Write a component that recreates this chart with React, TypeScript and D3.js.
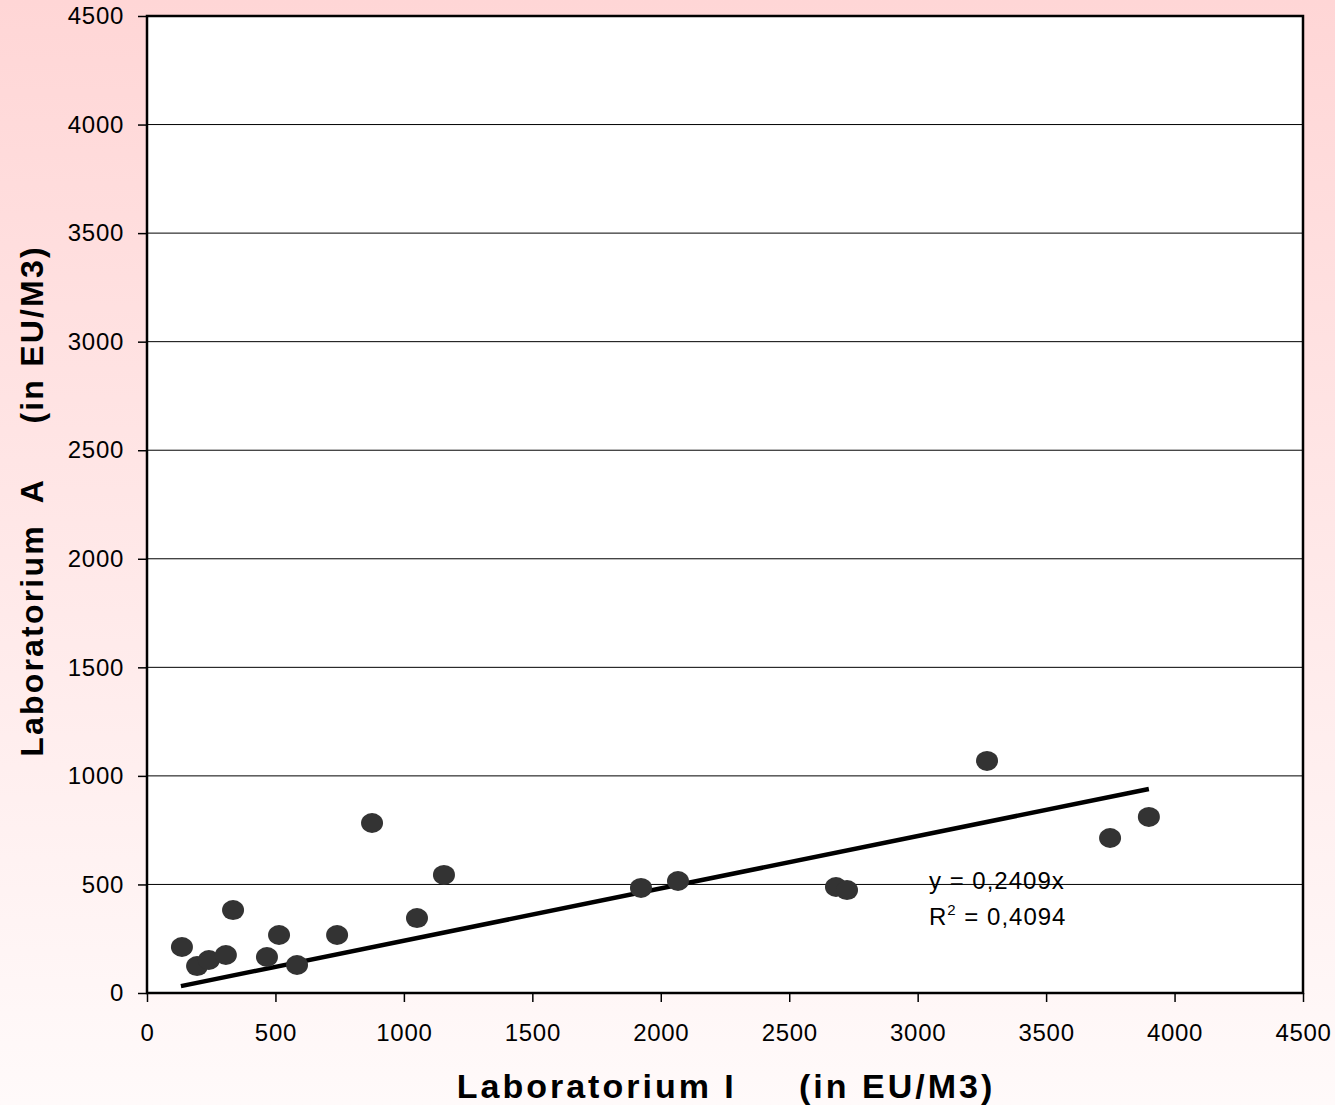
import React, { useEffect, useRef } from 'react';
import * as d3 from 'd3';

// (Laboratorium I vs Laboratorium A, EU/M3)
const labI = [136, 195, 241, 307, 335, 467, 514, 584, 740, 876, 1051, 1156, 1923, 2067, 2682, 2725, 3270, 3749, 3900];
const labA = [212, 124, 152, 175, 382, 166, 267, 129, 267, 783, 345, 544, 484, 516, 488, 474, 1069, 714, 811];
const slope = 0.2409;
const rSquared = '0,4094';
const ticks = [0, 500, 1000, 1500, 2000, 2500, 3000, 3500, 4000, 4500];

const W = 1335;
const H = 1105;
const margin = { top: 16, right: 32, bottom: 112, left: 147 };

export default function App() {
  const svgRef = useRef<SVGSVGElement>(null);

  useEffect(() => {
    document.body.style.margin = '0';
    const svg = d3.select(svgRef.current);
    svg.selectAll('*').remove();

    const x = d3.scaleLinear().domain([0, 4500]).range([margin.left, W - margin.right]);
    const y = d3.scaleLinear().domain([0, 4500]).range([H - margin.bottom, margin.top]);

    // background gradient
    const defs = svg.append('defs');
    const grad = defs.append('linearGradient').attr('id', 'bg').attr('x1', 0).attr('y1', 0).attr('x2', 0).attr('y2', 1);
    grad.append('stop').attr('offset', '0%').attr('stop-color', '#ffd6d6');
    grad.append('stop').attr('offset', '100%').attr('stop-color', '#fffafa');
    svg.append('rect').attr('width', W).attr('height', H).attr('fill', 'url(#bg)');

    // plot area
    svg.append('rect')
      .attr('x', x(0)).attr('y', y(4500))
      .attr('width', x(4500) - x(0)).attr('height', y(0) - y(4500))
      .attr('fill', '#fff');

    // gridlines
    svg.append('g')
      .selectAll('line')
      .data(ticks.slice(1, -1))
      .join('line')
      .attr('x1', x(0)).attr('x2', x(4500))
      .attr('y1', d => y(d)).attr('y2', d => y(d))
      .attr('stroke', '#000').attr('stroke-width', 1);

    const font = '"Liberation Sans", Arial, sans-serif';

    // axes
    const yAxis = svg.append('g')
      .attr('transform', `translate(${x(0)},0)`)
      .call(d3.axisLeft(y).tickValues(ticks).tickSize(9).tickPadding(14).tickFormat(d3.format('d')));
    const xAxis = svg.append('g')
      .attr('transform', `translate(0,${y(0)})`)
      .call(d3.axisBottom(x).tickValues(ticks).tickSize(9).tickPadding(22).tickFormat(d3.format('d')));
    [yAxis, xAxis].forEach(g => {
      g.select('.domain').remove();
      g.selectAll('.tick line').attr('stroke', '#000').attr('stroke-width', 1.5);
      g.selectAll('.tick text').attr('fill', '#000')
        .style('font-family', font).style('font-size', '24px').style('letter-spacing', '0.7px');
    });

    // frame
    svg.append('rect')
      .attr('x', x(0)).attr('y', y(4500))
      .attr('width', x(4500) - x(0)).attr('height', y(0) - y(4500))
      .attr('fill', 'none').attr('stroke', '#000').attr('stroke-width', 2.5);

    // trendline
    const xs = d3.extent(labI) as [number, number];
    svg.append('line')
      .attr('x1', x(xs[0] - 4)).attr('y1', y(slope * (xs[0] - 4)))
      .attr('x2', x(xs[1])).attr('y2', y(slope * xs[1]))
      .attr('stroke', '#000').attr('stroke-width', 4.5);

    // points
    svg.append('g')
      .selectAll('ellipse')
      .data(labI.map((v, i) => [v, labA[i]]))
      .join('ellipse')
      .attr('cx', d => x(d[0])).attr('cy', d => y(d[1]))
      .attr('rx', 11).attr('ry', 10)
      .attr('fill', '#333');

    // equation
    const eq = svg.append('g')
      .style('font-family', font).style('font-size', '24px').style('letter-spacing', '1px')
      .attr('fill', '#000');
    eq.append('text').attr('x', 929).attr('y', 889).text(`y = ${String(slope).replace('.', ',')}x`);
    const r = eq.append('text').attr('x', 929).attr('y', 925);
    r.append('tspan').text('R');
    r.append('tspan').attr('dy', -10).style('font-size', '15px').text('2');
    r.append('tspan').attr('dy', 10).text(` = ${rSquared}`);

    // axis titles
    svg.append('text')
      .attr('x', 726).attr('y', 1098)
      .attr('text-anchor', 'middle')
      .attr('xml:space', 'preserve')
      .style('white-space', 'pre')
      .style('font-family', font).style('font-size', '34px').style('font-weight', 'bold').style('letter-spacing', '3px')
      .text('Laboratorium I     (in EU/M3)');
    svg.append('text')
      .attr('transform', 'translate(43,501) rotate(-90)')
      .attr('text-anchor', 'middle')
      .attr('xml:space', 'preserve')
      .style('white-space', 'pre')
      .style('font-family', font).style('font-size', '32px').style('font-weight', 'bold').style('letter-spacing', '2.2px')
      .text('Laboratorium  A     (in EU/M3)');
  }, []);

  return <svg ref={svgRef} width={W} height={H} style={{ display: 'block' }} />;
}
